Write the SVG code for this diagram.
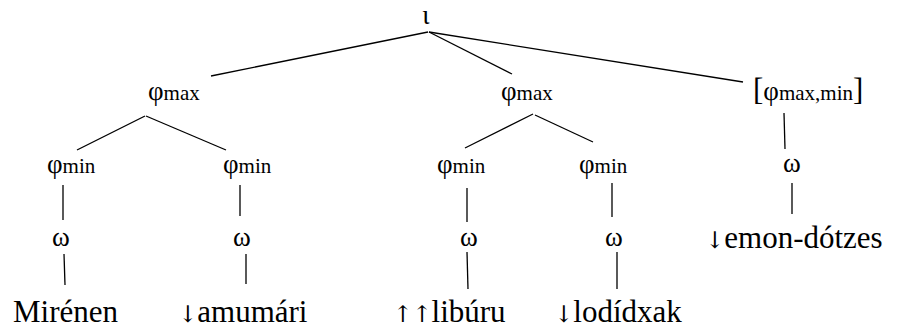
<svg xmlns="http://www.w3.org/2000/svg" width="909" height="328" viewBox="0 0 909 328">
<style>
#edges line{stroke:#000;stroke-width:1.3}
</style>
<rect width="909" height="328" fill="#fff"/>
<g id="edges">
<line x1="428" y1="32" x2="211" y2="76"/>
<line x1="429" y1="32" x2="512" y2="74"/>
<line x1="429" y1="32" x2="743" y2="82"/>
<line x1="145" y1="116" x2="77" y2="150"/>
<line x1="146" y1="116" x2="226" y2="150"/>
<line x1="533" y1="114" x2="465" y2="148"/>
<line x1="535" y1="115" x2="593" y2="142"/>
<line x1="784" y1="113" x2="785" y2="149"/>
<line x1="63" y1="185" x2="63" y2="220"/>
<line x1="240" y1="185" x2="240" y2="216"/>
<line x1="467" y1="188" x2="467" y2="222"/>
<line x1="612" y1="183" x2="612" y2="217"/>
<line x1="64" y1="254" x2="65" y2="285"/>
<line x1="246" y1="254" x2="246" y2="284"/>
<line x1="467" y1="252" x2="468" y2="289"/>
<line x1="617" y1="252" x2="617" y2="289"/>
<line x1="792" y1="183" x2="792" y2="214"/>
</g>
<g id="root"><text font-family="Liberation Serif" font-size="27" x="426" y="24" text-anchor="middle">ι</text></g>
<g id="phimax1"><text font-family="Liberation Serif" font-size="27" x="148" y="100">φ<tspan font-size="21">max</tspan></text></g>
<g id="phimax2"><text font-family="Liberation Serif" font-size="27" x="501" y="100">φ<tspan font-size="21">max</tspan></text></g>
<g id="phimaxmin"><text font-family="Liberation Serif" font-size="31" x="753" y="100">[<tspan font-size="27">φ</tspan><tspan font-size="21">max,min</tspan><tspan font-size="31">]</tspan></text></g>
<g id="phimin1"><text font-family="Liberation Serif" font-size="27" x="47" y="173">φ<tspan font-size="21">min</tspan></text></g>
<g id="phimin2"><text font-family="Liberation Serif" font-size="27" x="223" y="173">φ<tspan font-size="21">min</tspan></text></g>
<g id="phimin3"><text font-family="Liberation Serif" font-size="27" x="437" y="173">φ<tspan font-size="21">min</tspan></text></g>
<g id="phimin4"><text font-family="Liberation Serif" font-size="27" x="579" y="173">φ<tspan font-size="21">min</tspan></text></g>
<g id="omega1"><text font-family="Liberation Serif" font-size="27" x="61" y="246" text-anchor="middle">ω</text></g>
<g id="omega2"><text font-family="Liberation Serif" font-size="27" x="242" y="246" text-anchor="middle">ω</text></g>
<g id="omega3"><text font-family="Liberation Serif" font-size="27" x="469" y="246" text-anchor="middle">ω</text></g>
<g id="omega4"><text font-family="Liberation Serif" font-size="27" x="614" y="246" text-anchor="middle">ω</text></g>
<g id="omega5"><text font-family="Liberation Serif" font-size="27" x="792" y="172" text-anchor="middle">ω</text></g>
<g id="w1"><text font-family="Liberation Serif" font-size="31" x="13" y="322">Mirénen</text></g>
<g id="w2"><text font-family="Liberation Serif" font-size="31" x="178" y="322"><tspan font-family="DejaVu Serif" font-size="23">↓</tspan>amumári</text></g>
<g id="w3"><text font-family="Liberation Serif" font-size="31" x="393" y="322"><tspan font-family="DejaVu Serif" font-size="23">↑↑</tspan>libúru</text></g>
<g id="w4"><text font-family="Liberation Serif" font-size="31" x="554" y="322"><tspan font-family="DejaVu Serif" font-size="23">↓</tspan>lodídxak</text></g>
<g id="w5"><text font-family="Liberation Serif" font-size="31" x="705" y="248"><tspan font-family="DejaVu Serif" font-size="23">↓</tspan>emon-dótzes</text></g>
</svg>
